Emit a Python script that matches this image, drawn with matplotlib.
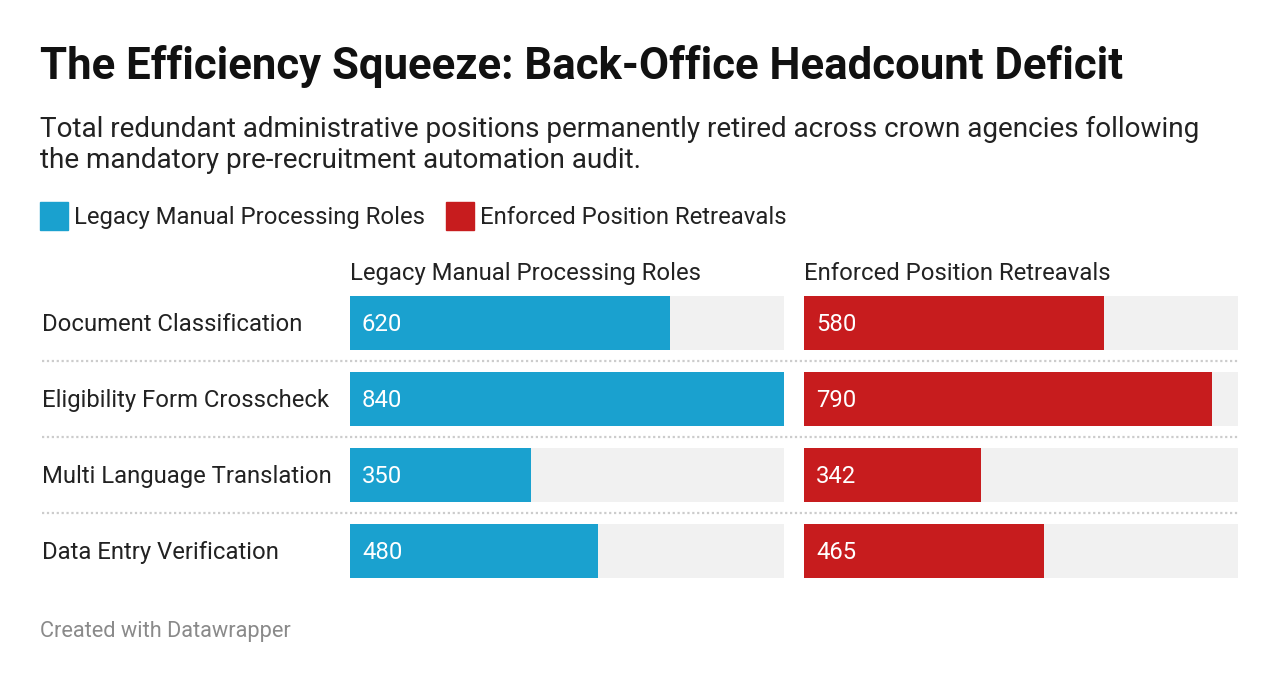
import matplotlib.pyplot as plt
from matplotlib.lines import Line2D
from matplotlib.patches import Rectangle
from matplotlib.transforms import blended_transform_factory

plt.rcParams['font.family'] = ['Roboto', 'DejaVu Sans']

# data
categories = ['Document Classification', 'Eligibility Form Crosscheck',
              'Multi Language Translation', 'Data Entry Verification']
legacy = [620, 840, 350, 480]
enforced = [580, 790, 342, 465]
series_names = ['Legacy Manual Processing Roles', 'Enforced Position Retreavals']
colors = ['#1aa1cf', '#c71c1e']
xmax = 840

W, H = 1280, 684
fig = plt.figure(figsize=(W / 100, H / 100), dpi=100)

def fx(px):
    return px / W

def fy(py):
    return 1 - py / H

# title, subtitle
fig.text(fx(40), fy(66.5), 'The Efficiency Squeeze: Back-Office Headcount Deficit',
         fontsize=31.5, fontweight='bold', color='#111111', va='center')
fig.text(fx(40), fy(129), 'Total redundant administrative positions permanently retired across crown agencies following',
         fontsize=20.1, color='#222222', va='center')
fig.text(fx(40), fy(161), 'the mandatory pre-recruitment automation audit.',
         fontsize=20.1, color='#222222', va='center')

# legend
lx = 40
for name, c in zip(series_names, colors):
    fig.add_artist(Rectangle((fx(lx), fy(230)), fx(28), 28 / H, color=c,
                             transform=fig.transFigure))
    t = fig.text(fx(lx + 34), fy(217.5), name, fontsize=17.2, color='#222222', va='center')
    fig.canvas.draw()
    bb = t.get_window_extent()
    lx = bb.x1 + 21

# panels
bar_h = 54 / 76
rows = list(range(len(categories)))
top, bottom = 296, 578
panels = [(350, legacy), (804, enforced)]
axes = []
for (x0, vals), name, c in zip(panels, series_names, colors):
    ax = fig.add_axes([fx(x0), fy(bottom), fx(434), (bottom - top) / H])
    ax.barh(rows, [xmax] * len(rows), height=bar_h, color='#f1f1f1')
    ax.barh(rows, vals, height=bar_h, color=c)
    for r, v in zip(rows, vals):
        ax.text(23, r + 0.015, str(v), color='white', fontsize=17.2, va='center', ha='left')
    ax.set_xlim(0, xmax)
    ax.set_ylim(rows[-1] + bar_h / 2, rows[0] - bar_h / 2)
    ax.axis('off')
    fig.text(fx(x0), fy(273.5), name, fontsize=17.2, color='#222222', va='center')
    axes.append(ax)

# category labels and dotted separators
tr = blended_transform_factory(fig.transFigure, axes[0].transData)
for r, cat in zip(rows, categories):
    fig.text(fx(42), r + 0.015, cat, transform=tr, fontsize=17.2, color='#222222', va='center')
for r in rows[:-1]:
    fig.add_artist(Line2D([fx(42), fx(1238)], [r + 0.5, r + 0.5], transform=tr,
                          color='#cccccc', lw=1.6, linestyle=(0, (1, 1.2))))

fig.text(fx(40), fy(632), 'Created with Datawrapper', fontsize=15.7, color='#8a8a8a', va='center')

fig.savefig('out.png', dpi=100, facecolor='white')
